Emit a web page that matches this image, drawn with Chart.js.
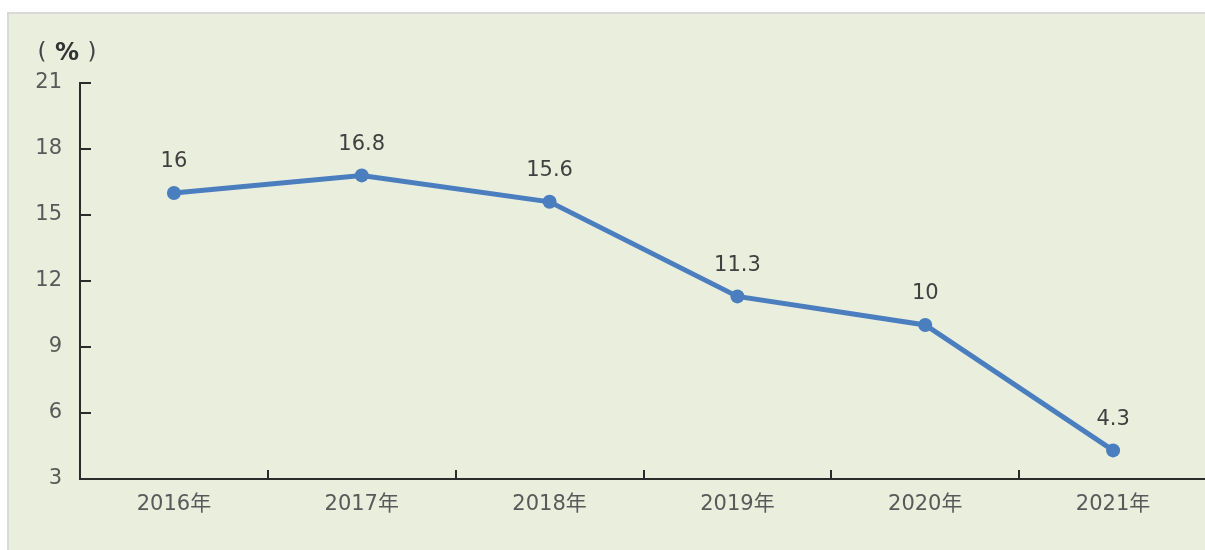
<!DOCTYPE html>
<html>
<head>
<meta charset="utf-8">
<script src="https://cdn.jsdelivr.net/npm/chart.js@4/dist/chart.umd.min.js"></script>
<style>
  html, body { margin: 0; background: #fff; overflow: hidden; }
  canvas { display: block; }
</style>
</head>
<body>
<!-- a bit wider than the window so the x axis runs off the right edge like the original -->
<canvas id="growth-chart" width="1214" height="550"></canvas>
<script>
// values
const years = ['2016年', '2017年', '2018年', '2019年', '2020年', '2021年'];
const rates = [16, 16.8, 15.6, 11.3, 10, 4.3];
const yTicks = [3, 6, 9, 12, 15, 18, 21];
const unitParts = ['(', '%', ')'];

const lineColor = '#4A7EBF';
const axisColor = '#2b2b2b';
const textColor = '#595959';
const fontFamily = '"DejaVu Sans", "Noto Sans CJK SC", sans-serif';

// panel background, inward tick marks, value labels and the unit label
const decorations = {
  id: 'decorations',
  beforeDraw(chart) {
    const ctx = chart.ctx;
    ctx.save();
    ctx.fillStyle = '#D9D9D9';
    ctx.fillRect(7, 12, chart.width - 7, chart.height - 12);
    ctx.fillStyle = '#EAEEDD';
    ctx.fillRect(9, 14, chart.width - 9, chart.height - 14);
    ctx.restore();
  },
  afterDatasetsDraw(chart) {
    const ctx = chart.ctx;
    const x = chart.scales.x, y = chart.scales.y;
    const area = chart.chartArea;
    ctx.save();
    ctx.strokeStyle = axisColor;
    ctx.lineWidth = 2;
    ctx.beginPath();
    yTicks.forEach(v => {
      if (v === yTicks[0]) return;
      const py = Math.round(y.getPixelForValue(v));
      ctx.moveTo(area.left, py);
      ctx.lineTo(area.left + 11, py);
    });
    for (let i = 0; i < years.length - 1; i++) {
      const px = Math.round((x.getPixelForTick(i) + x.getPixelForTick(i + 1)) / 2);
      ctx.moveTo(px, area.bottom);
      ctx.lineTo(px, area.bottom - 9);
    }
    ctx.stroke();

    // value labels above the points
    ctx.fillStyle = '#404040';
    ctx.font = '21px ' + fontFamily;
    ctx.textAlign = 'center';
    ctx.textBaseline = 'middle';
    const meta = chart.getDatasetMeta(0);
    meta.data.forEach((pt, i) => {
      ctx.fillText(String(rates[i]), pt.x, pt.y - 31);
    });

    // unit label, spread out like full-width brackets
    ctx.fillStyle = '#444';
    ctx.font = '23px ' + fontFamily;
    ctx.fillText(unitParts[0], 42, 53);
    ctx.fillText(unitParts[2], 92, 53);
    ctx.fillStyle = '#333';
    ctx.font = 'bold 24px ' + fontFamily;
    ctx.fillText(unitParts[1], 67, 54);
    ctx.restore();
  }
};

new Chart(document.getElementById('growth-chart'), {
  type: 'line',
  data: {
    labels: years,
    datasets: [{
      data: rates,
      borderColor: lineColor,
      backgroundColor: lineColor,
      borderWidth: 5,
      pointRadius: 7,
      pointBorderWidth: 0,
      fill: false,
      tension: 0
    }]
  },
  options: {
    responsive: false,
    animation: false,
    layout: { padding: { left: 8, top: 83, right: 0, bottom: 0 } },
    plugins: {
      legend: { display: false },
      tooltip: { enabled: false }
    },
    scales: {
      x: {
        type: 'category',
        offset: true,
        grid: { display: false, drawTicks: false },
        border: { display: true, color: axisColor, width: 2 },
        ticks: {
          color: textColor,
          font: { size: 21, family: fontFamily },
          padding: 13,
          maxRotation: 0
        },
        afterFit(scale) { scale.height = 71; }
      },
      y: {
        min: 3,
        max: 21,
        afterBuildTicks(scale) { scale.ticks = yTicks.map(v => ({ value: v })); },
        grid: { display: false, drawTicks: false },
        border: { display: true, color: axisColor, width: 2 },
        ticks: {
          color: textColor,
          font: { size: 21, family: fontFamily },
          padding: 18
        },
        afterFit(scale) { scale.width = 72; }
      }
    }
  },
  plugins: [decorations]
});
</script>
</body>
</html>
